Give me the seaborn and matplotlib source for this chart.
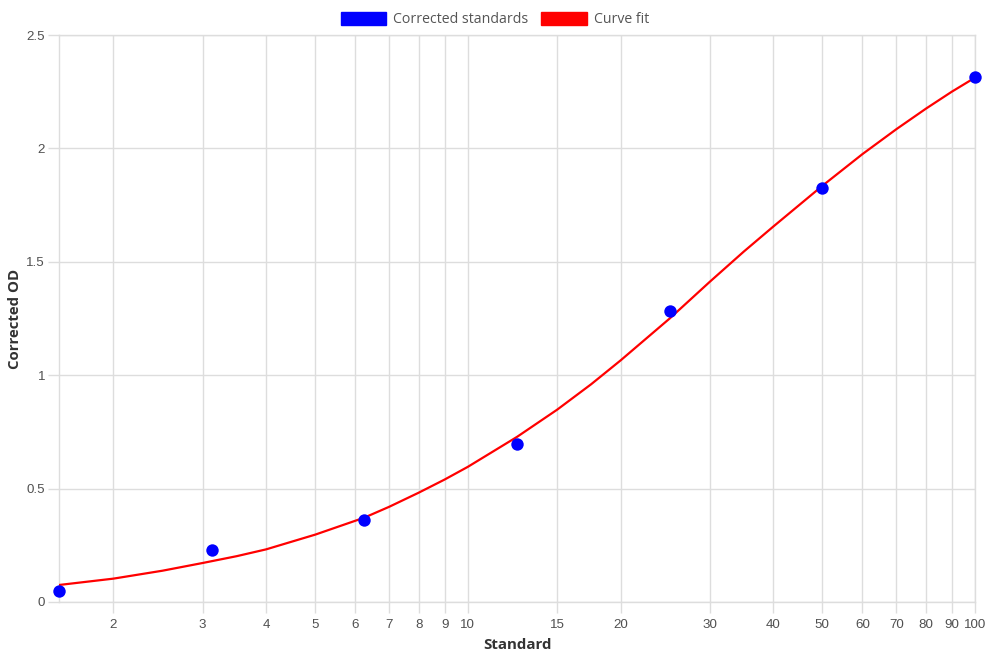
import pandas as pd
import matplotlib.pyplot as plt
import seaborn as sns
from matplotlib.patches import Patch

# Standards (x) and corrected OD readings
std_conc = [1.5625, 3.125, 6.25, 12.5, 25, 50, 100]
std_od = [0.048, 0.229, 0.362, 0.697, 1.284, 1.824, 2.316]

# Curve fit
fit_x = [1.5625, 2, 2.5, 3, 3.5, 4, 5, 6.25, 7, 8, 9, 10, 12.5, 15, 17.5,
         20, 25, 30, 35, 40, 45, 50, 60, 70, 80, 90, 100]
fit_y = [0.075, 0.103, 0.138, 0.172, 0.202, 0.232, 0.297, 0.372, 0.420,
         0.482, 0.540, 0.596, 0.728, 0.848, 0.960, 1.065, 1.250, 1.412, 1.545,
         1.655, 1.750, 1.835, 1.975, 2.085, 2.175, 2.250, 2.312]

x_ticks = [2, 3, 4, 5, 6, 7, 8, 9, 10, 15, 20, 30, 40, 50, 60, 70, 80, 90, 100]
y_ticks = [0, 0.5, 1, 1.5, 2, 2.5]
y_labels = ["0", "0.5", "1", "1.5", "2", "2.5"]

df_std = pd.DataFrame({"Standard": std_conc, "OD": std_od})
df_fit = pd.DataFrame({"Standard": fit_x, "OD": fit_y})

sns.set_theme(style="whitegrid")
plt.rcParams['font.family'] = ['Liberation Sans', 'DejaVu Sans']
plt.rcParams['lines.solid_joinstyle'] = 'round'

grid_c = "#dddddd"
fig = plt.figure(figsize=(9.9, 6.6), dpi=100)
ax = fig.add_axes([59 / 990, 1 - 602 / 660, (975 - 59) / 990, (602 - 35) / 660])

sns.lineplot(data=df_fit, x="Standard", y="OD", ax=ax, color="red", linewidth=1.6,
             zorder=3)
sns.scatterplot(data=df_std, x="Standard", y="OD", ax=ax, color="blue", s=80,
                edgecolor="blue", linewidth=0, zorder=4, clip_on=False)

ax.set_xscale("log")
ax.set_xlim(1.5625, 100)
ax.set_ylim(0, 2.5)
ax.set_xticks(x_ticks)
ax.set_xticklabels([str(t) for t in x_ticks])
ax.xaxis.set_minor_locator(plt.NullLocator())
ax.set_yticks(y_ticks)
ax.set_yticklabels(y_labels)

ax.grid(True, color=grid_c, linewidth=1)
ax.tick_params(axis="both", length=8, width=1, color=grid_c, labelsize=9.6,
               labelcolor="#505050", direction="out", bottom=True, left=True)
ax.tick_params(axis="y", pad=2)
ax.tick_params(axis="x", pad=4)
for sp in ax.spines.values():
    sp.set_color(grid_c)
    sp.set_linewidth(1)

ax.set_xlabel("Standard", fontsize=10.8, fontweight="bold", color="#333333",
              family=["Open Sans", "DejaVu Sans"], labelpad=5)
ax.set_ylabel("Corrected OD", fontsize=10.8, fontweight="bold", color="#333333",
              family=["Open Sans", "DejaVu Sans"], labelpad=3)

handles = [Patch(facecolor="blue", edgecolor="blue"),
           Patch(facecolor="red", edgecolor="red")]
fig.legend(handles, ["Corrected standards", "Curve fit"], loc="upper center",
           bbox_to_anchor=(0.5, 1.0), ncol=2, frameon=False,
           handlelength=3.2, handleheight=1.0, handletextpad=0.5, columnspacing=0.9,
           prop={"family": ["Open Sans", "DejaVu Sans"], "size": 10.2},
           labelcolor="#555555", borderaxespad=0.45)

fig.savefig("out.png", dpi=100)
